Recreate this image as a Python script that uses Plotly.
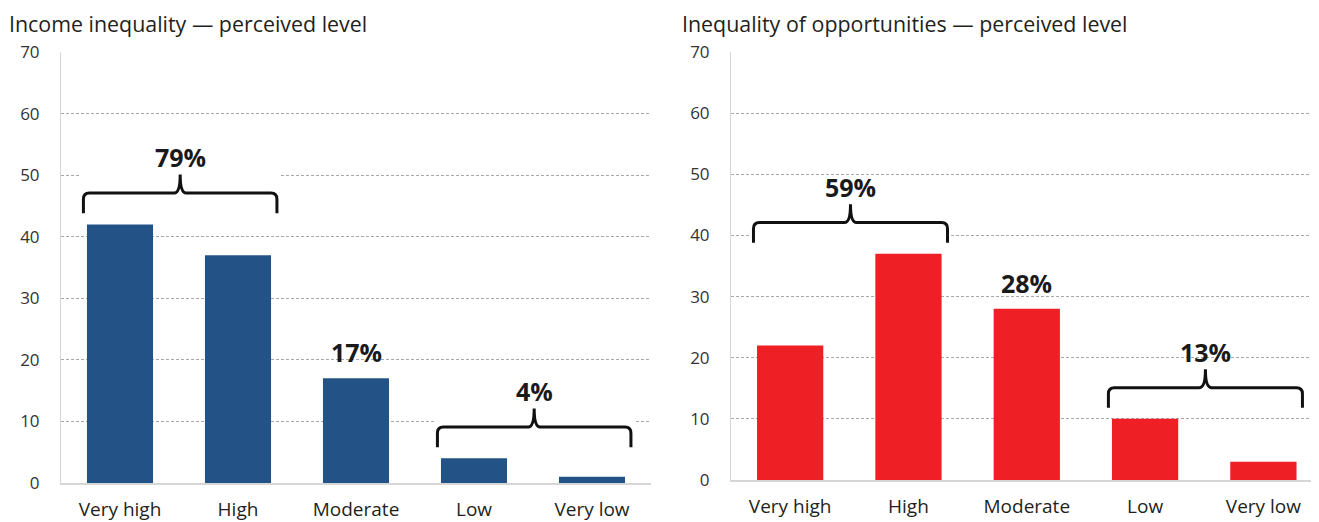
import plotly.graph_objects as go

# ---------------- data ----------------
categories = ["Very high", "High", "Moderate", "Low", "Very low"]
income_values = [42, 37, 17, 4, 1]
opportunity_values = [22, 37, 28, 10, 3]
y_ticks = [0, 10, 20, 30, 40, 50, 60, 70]

income_title = "Income inequality — perceived level"
opportunity_title = "Inequality of opportunities — perceived level"

# grouped labels (text, first category index, last category index)
income_groups = [("79%", 0, 1), ("4%", 3, 4)]
opportunity_groups = [("59%", 0, 1), ("13%", 3, 4)]
# single-bar labels (text, category index)
income_singles = [("17%", 2)]
opportunity_singles = [("28%", 2)]

BLUE = "#235386"
RED = "#ee1f25"
FONT = "Open Sans"
OFF = 8                       # page body margin of the browser
W, H = 1319 - OFF, 522 - OFF


def px(x):
    return (x - OFF) / W


def py(y):
    return (H - (y - OFF)) / H


fig = go.Figure()
idx = list(range(len(categories)))

fig.add_trace(go.Bar(x=idx, y=income_values, marker=dict(color=BLUE, line=dict(width=0)),
                     width=0.56, xaxis="x", yaxis="y", showlegend=False, hoverinfo="skip"))
fig.add_trace(go.Bar(x=idx, y=opportunity_values, marker=dict(color=RED, line=dict(width=0)),
                     width=0.56, xaxis="x2", yaxis="y2", showlegend=False, hoverinfo="skip"))


def axis_x(domain, rng, anchor):
    return dict(domain=domain, range=rng, anchor=anchor, tickvals=idx, ticktext=categories,
                showgrid=False, zeroline=False, showline=True, linecolor="#d6d6d6", linewidth=1.5,
                ticks="outside", ticklen=8, tickcolor="rgba(0,0,0,0)", automargin=False,
                tickfont=dict(family=FONT, size=19, color="#231f20"), fixedrange=True)


def axis_y(domain, anchor):
    return dict(domain=domain, range=[0, 70], anchor=anchor, tickvals=y_ticks,
                showgrid=True, gridcolor="#a8a8a8", gridwidth=1, griddash="3px,2px",
                zeroline=False, showline=True, linecolor="#d6d6d6", linewidth=1,
                ticks="outside", ticklen=17, tickcolor="rgba(0,0,0,0)", automargin=False,
                tickfont=dict(family=FONT, size=17, color="#333333"), fixedrange=True)


fig.update_layout(
    width=W, height=H, autosize=False,
    margin=dict(l=0, r=0, t=0, b=0, pad=0),
    paper_bgcolor="white", plot_bgcolor="white",
    xaxis=axis_x([px(61), px(651)], [-0.5, 4.5], "y"),
    yaxis=axis_y([py(483), py(52)], "x"),
    xaxis2=axis_x([px(731), 1.0], [-0.5, 4.47], "y2"),
    yaxis2=axis_y([py(480), py(52)], "x2"),
)

shapes = []
annotations = []


def add_brace(xr, yr, text, i0, i1, values):
    top = max(values[i0:i1 + 1])
    yb = top + 1.8      # bottom of brace ends
    yh = yb + 3.3       # horizontal bar
    yt = yh + 3.0       # tip
    yl = yt + 2.9       # label
    x0, x1 = i0 - 0.31, i1 + 0.33
    xm = (x0 + x1) / 2
    dx, ry = 0.05, 1.0
    # white mask hiding gridlines behind the brace
    shapes.append(dict(type="rect", xref=xr, yref=yr, x0=x0 - 0.03, x1=x1 + 0.03,
                       y0=yb - 0.3, y1=yt + 0.9, fillcolor="white", line=dict(width=0),
                       layer="above"))
    path = (f"M {x0},{yb} L {x0},{yh - ry} Q {x0},{yh} {x0 + dx},{yh} "
            f"L {xm - dx},{yh} Q {xm},{yh} {xm},{yt} Q {xm},{yh} {xm + dx},{yh} "
            f"L {x1 - dx},{yh} Q {x1},{yh} {x1},{yh - ry} L {x1},{yb}")
    shapes.append(dict(type="path", xref=xr, yref=yr, path=path,
                       line=dict(color="#111111", width=3), layer="above"))
    annotations.append(dict(xref=xr, yref=yr, x=xm, y=yl, text=f"<b>{text}</b>",
                            showarrow=False, yanchor="middle", xanchor="center",
                            font=dict(family=FONT, size=25, color="#1a1a1a")))


def add_single(xr, yr, text, i, values):
    annotations.append(dict(xref=xr, yref=yr, x=i, y=values[i] + 4.3, text=f"<b>{text}</b>",
                            showarrow=False, yanchor="middle", xanchor="center",
                            font=dict(family=FONT, size=25, color="#1a1a1a")))


for t, a, b in income_groups:
    add_brace("x", "y", t, a, b, income_values)
for t, a, b in opportunity_groups:
    add_brace("x2", "y2", t, a, b, opportunity_values)
for t, i in income_singles:
    add_single("x", "y", t, i, income_values)
for t, i in opportunity_singles:
    add_single("x2", "y2", t, i, opportunity_values)

annotations.append(dict(xref="paper", yref="paper", x=px(8), y=1.0, text=income_title,
                        showarrow=False, xanchor="left", yanchor="top", borderpad=0,
                        font=dict(family=FONT, size=21.4, color="#231f20")))
annotations.append(dict(xref="paper", yref="paper", x=px(681), y=1.0, text=opportunity_title,
                        showarrow=False, xanchor="left", yanchor="top", borderpad=0,
                        font=dict(family=FONT, size=21.4, color="#231f20")))

fig.update_layout(shapes=shapes, annotations=annotations)
fig.write_html("out.html")
